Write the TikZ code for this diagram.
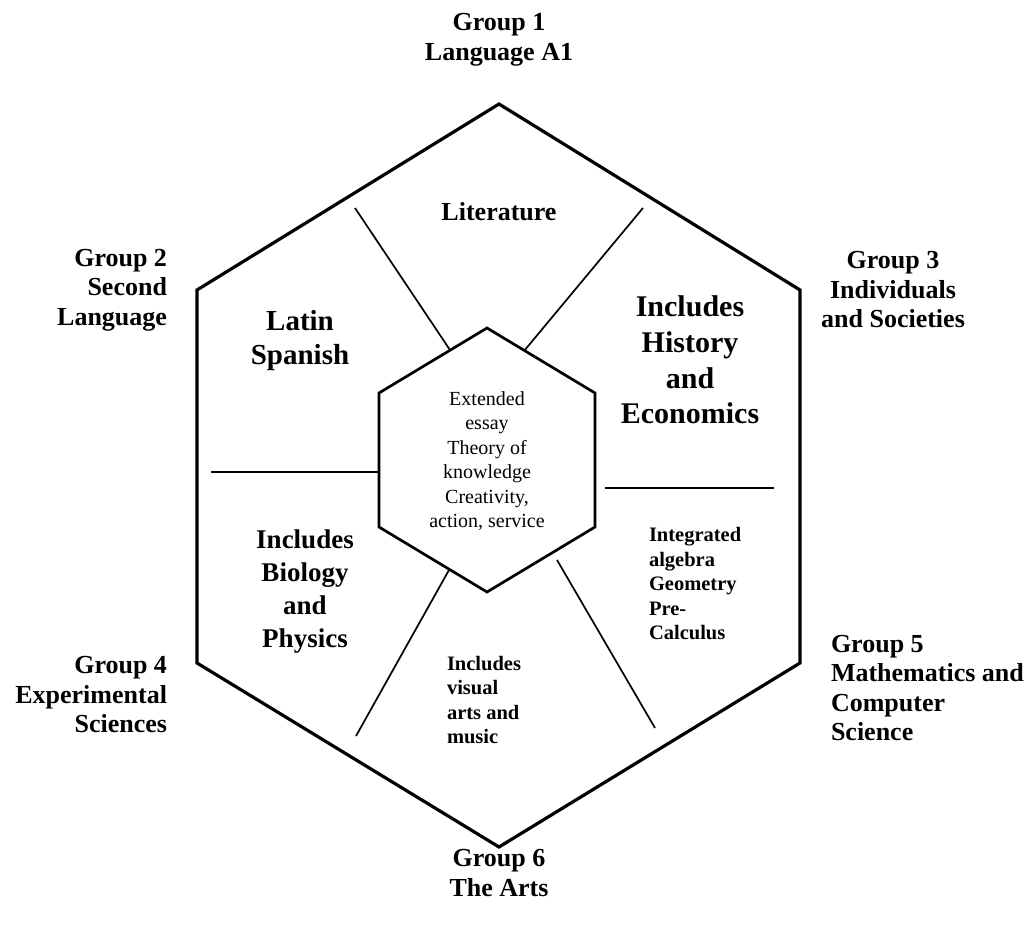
\documentclass[tikz,border=0pt]{standalone}
\usepackage{fontspec}
\setmainfont{Liberation Serif}
\begin{document}
\begin{tikzpicture}[x=1pt,y=-1pt,
  outer/.style={line width=3.2pt,line join=miter},
  inner/.style={line width=2.7pt,line join=miter},
  spoke/.style={line width=1.7pt},
  hspoke/.style={line width=2.2pt},
  txt/.style={inner sep=0pt,outer sep=0pt},
  grp/.style={txt,font=\bfseries\fontsize{26}{29.5}\selectfont},
  big/.style={txt,font=\bfseries\fontsize{30}{35.7}\selectfont,align=center},
  mid/.style={txt,font=\bfseries\fontsize{27}{33}\selectfont,align=center},
  small/.style={txt,font=\bfseries\fontsize{20.5}{24.5}\selectfont,align=left},
  core/.style={txt,font=\fontsize{20}{24.5}\selectfont,align=center}]
\useasboundingbox (0,0) rectangle (1031,925);
\fill[white] (0,0) rectangle (1031,925);
% outer hexagon
\coordinate (o1) at (499,104);
\coordinate (o2) at (800,290);
\coordinate (o3) at (800,663);
\coordinate (o4) at (499,847);
\coordinate (o5) at (197,663);
\coordinate (o6) at (197,290);
\draw[outer] (o1) -- (o2) -- (o3) -- (o4) -- (o5) -- (o6) -- cycle;
% inner hexagon
\coordinate (i1) at (487,328);
\coordinate (i2) at (595,393);
\coordinate (i3) at (595,527);
\coordinate (i4) at (487,592);
\coordinate (i5) at (379,527);
\coordinate (i6) at (379,393);
\draw[inner] (i1) -- (i2) -- (i3) -- (i4) -- (i5) -- (i6) -- cycle;
% spokes
\coordinate (s1a) at (355,208); \coordinate (s1b) at (450,350);
\coordinate (s2a) at (643,208); \coordinate (s2b) at (524,351);
\coordinate (s3a) at (211,472); \coordinate (s3b) at (379,472);
\coordinate (s4a) at (605,488); \coordinate (s4b) at (774,488);
\coordinate (s5a) at (449,570); \coordinate (s5b) at (356,736);
\coordinate (s6a) at (557,560); \coordinate (s6b) at (655,728);
\draw[spoke] (s1a) -- (s1b);
\draw[spoke] (s2a) -- (s2b);
\draw[hspoke] (s3a) -- (s3b);
\draw[hspoke] (s4a) -- (s4b);
\draw[spoke] (s5a) -- (s5b);
\draw[spoke] (s6a) -- (s6b);
% group labels
\node[grp,align=center] (g1) at (499,40) {Group 1\\Language A1};
\node[grp,align=right,anchor=east] (g2) at (167,290) {Group 2\\Second\\Language};
\node[grp,align=center] (g3) at (893,290) {Group 3\\Individuals\\and Societies};
\node[grp,align=right,anchor=east] (g4) at (167,695) {Group 4\\Experimental\\Sciences};
\node[grp,align=left,anchor=west] (g5) at (831,688) {Group 5\\Mathematics and\\Computer\\Science};
\node[grp,align=center] (g6) at (499,873) {Group 6\\The Arts};
% sector texts
\node[grp] (lit) at (499,212) {Literature};
\node[big,font=\bfseries\fontsize{29}{34}\selectfont] (latin) at (300,341) {Latin\\Spanish};
\node[big] (hist) at (690,360) {Includes\\History\\and\\Economics};
\node[mid] (bio) at (305,592) {Includes\\Biology\\and\\Physics};
\node[small,anchor=west] (arts) at (447,700) {Includes\\visual\\arts and\\music};
\node[small,anchor=west] (math) at (649,584) {Integrated\\algebra\\Geometry\\Pre-\\Calculus};
\node[core] (ctr) at (487,461) {Extended\\essay\\Theory of\\knowledge\\Creativity,\\action, service};
\end{tikzpicture}
\end{document}
